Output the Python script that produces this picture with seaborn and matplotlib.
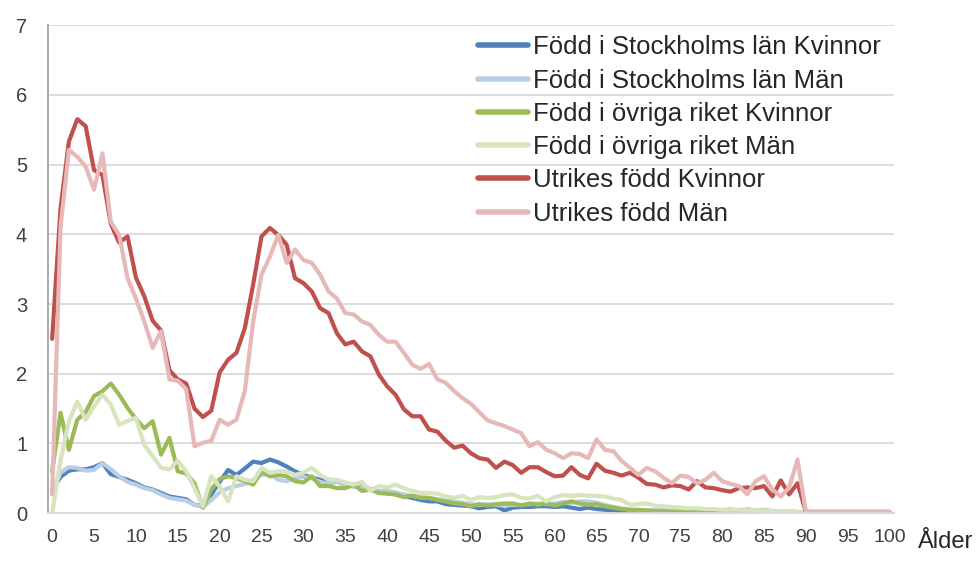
import matplotlib
matplotlib.use('Agg')
import matplotlib.pyplot as plt
import seaborn as sns
import pandas as pd

# Ålder 0-100
ages = list(range(0, 101))

stockholm_kvinnor = [
    0.33, 0.52, 0.61, 0.63, 0.63, 0.66, 0.72, 0.56, 0.52, 0.48,
    0.43, 0.37, 0.34, 0.29, 0.24, 0.22, 0.20, 0.12, 0.10, 0.27,
    0.45, 0.62, 0.55, 0.64, 0.74, 0.72, 0.77, 0.73, 0.67, 0.60,
    0.55, 0.51, 0.48, 0.48, 0.46, 0.40, 0.39, 0.39, 0.34, 0.32,
    0.29, 0.27, 0.24, 0.22, 0.19, 0.17, 0.17, 0.13, 0.12, 0.11,
    0.10, 0.07, 0.09, 0.10, 0.04, 0.08, 0.09, 0.09, 0.10, 0.10,
    0.09, 0.10, 0.08, 0.06, 0.08, 0.06, 0.05, 0.04, 0.03, 0.02,
    0.01, 0.02, 0.02, 0.01, 0.02, 0.02, 0.01, 0.02, 0.02, 0.01,
    0.02, 0.02, 0.01, 0.02, 0.01, 0.02, 0.01, 0.01, 0.01, 0.01,
    0.00, 0.00, 0.00, 0.00, 0.00, 0.00, 0.00, 0.00, 0.00, 0.00,
    0.00,
]
stockholm_man = [
    0.30, 0.58, 0.66, 0.65, 0.61, 0.62, 0.72, 0.63, 0.53, 0.45,
    0.41, 0.36, 0.33, 0.27, 0.22, 0.20, 0.18, 0.12, 0.09, 0.19,
    0.30, 0.36, 0.39, 0.42, 0.48, 0.55, 0.56, 0.48, 0.46, 0.50,
    0.52, 0.50, 0.45, 0.42, 0.45, 0.40, 0.38, 0.38, 0.34, 0.32,
    0.32, 0.30, 0.27, 0.25, 0.23, 0.22, 0.20, 0.18, 0.17, 0.15,
    0.13, 0.12, 0.13, 0.12, 0.11, 0.12, 0.12, 0.13, 0.14, 0.13,
    0.14, 0.16, 0.15, 0.17, 0.17, 0.15, 0.12, 0.09, 0.07, 0.05,
    0.04, 0.04, 0.05, 0.04, 0.04, 0.05, 0.04, 0.06, 0.04, 0.05,
    0.04, 0.06, 0.04, 0.06, 0.04, 0.05, 0.03, 0.03, 0.02, 0.02,
    0.00, 0.00, 0.00, 0.00, 0.00, 0.00, 0.00, 0.00, 0.00, 0.00,
    0.00,
]
ovriga_kvinnor = [
    0.60, 1.44, 0.91, 1.34, 1.45, 1.68, 1.75, 1.86, 1.70, 1.51,
    1.35, 1.22, 1.32, 0.84, 1.08, 0.60, 0.57, 0.43, 0.08, 0.34,
    0.49, 0.53, 0.50, 0.46, 0.41, 0.60, 0.53, 0.55, 0.53, 0.46,
    0.44, 0.53, 0.39, 0.39, 0.36, 0.36, 0.41, 0.32, 0.34, 0.29,
    0.28, 0.27, 0.23, 0.25, 0.22, 0.22, 0.19, 0.17, 0.14, 0.13,
    0.10, 0.13, 0.11, 0.13, 0.14, 0.14, 0.11, 0.14, 0.12, 0.14,
    0.11, 0.14, 0.17, 0.14, 0.12, 0.13, 0.10, 0.08, 0.06, 0.05,
    0.05, 0.04, 0.03, 0.03, 0.02, 0.02, 0.02, 0.02, 0.03, 0.03,
    0.02, 0.03, 0.04, 0.03, 0.03, 0.04, 0.03, 0.02, 0.02, 0.02,
    0.00, 0.00, 0.00, 0.00, 0.00, 0.00, 0.00, 0.00, 0.00, 0.00,
    0.00,
]
ovriga_man = [
    0.00, 0.76, 1.32, 1.60, 1.34, 1.53, 1.70, 1.56, 1.27, 1.32,
    1.37, 0.98, 0.82, 0.65, 0.63, 0.75, 0.60, 0.36, 0.10, 0.53,
    0.38, 0.17, 0.53, 0.48, 0.46, 0.65, 0.58, 0.60, 0.60, 0.55,
    0.58, 0.65, 0.55, 0.48, 0.48, 0.44, 0.41, 0.45, 0.32, 0.39,
    0.37, 0.41, 0.36, 0.32, 0.29, 0.29, 0.28, 0.24, 0.22, 0.25,
    0.19, 0.23, 0.22, 0.23, 0.26, 0.27, 0.22, 0.21, 0.25, 0.17,
    0.23, 0.26, 0.25, 0.26, 0.25, 0.25, 0.24, 0.21, 0.19, 0.12,
    0.13, 0.14, 0.11, 0.10, 0.09, 0.08, 0.07, 0.07, 0.06, 0.06,
    0.05, 0.05, 0.05, 0.04, 0.04, 0.04, 0.03, 0.03, 0.03, 0.02,
    0.00, 0.00, 0.00, 0.00, 0.00, 0.00, 0.00, 0.00, 0.00, 0.00,
    0.00,
]
utrikes_kvinnor = [
    2.50, 4.37, 5.33, 5.65, 5.55, 4.92, 4.85, 4.15, 3.88, 3.97,
    3.38, 3.11, 2.76, 2.62, 2.05, 1.92, 1.86, 1.50, 1.38, 1.47,
    2.02, 2.20, 2.30, 2.65, 3.28, 3.97, 4.09, 3.99, 3.85, 3.37,
    3.30, 3.18, 2.94, 2.87, 2.58, 2.42, 2.46, 2.32, 2.25, 1.99,
    1.82, 1.70, 1.49, 1.39, 1.39, 1.20, 1.17, 1.04, 0.94, 0.97,
    0.86, 0.79, 0.77, 0.65, 0.74, 0.69, 0.58, 0.66, 0.66, 0.59,
    0.53, 0.54, 0.66, 0.55, 0.50, 0.71, 0.61, 0.58, 0.54, 0.58,
    0.51, 0.42, 0.41, 0.37, 0.40, 0.39, 0.34, 0.46, 0.37, 0.36,
    0.33, 0.31, 0.36, 0.37, 0.36, 0.39, 0.24, 0.47, 0.27, 0.43,
    0.02, 0.02, 0.02, 0.02, 0.02, 0.02, 0.02, 0.02, 0.02, 0.02,
    0.02,
]
utrikes_man = [
    0.27, 4.10, 5.21, 5.11, 4.97, 4.64, 5.16, 4.18, 3.99, 3.37,
    3.08, 2.75, 2.37, 2.61, 1.92, 1.90, 1.78, 0.96, 1.01, 1.04,
    1.34, 1.27, 1.34, 1.75, 2.75, 3.42, 3.68, 3.99, 3.59, 3.78,
    3.63, 3.59, 3.42, 3.18, 3.08, 2.87, 2.85, 2.75, 2.70, 2.56,
    2.46, 2.46, 2.30, 2.13, 2.07, 2.14, 1.92, 1.87, 1.75, 1.65,
    1.57, 1.45, 1.33, 1.29, 1.25, 1.20, 1.15, 0.96, 1.02, 0.91,
    0.86, 0.79, 0.86, 0.85, 0.79, 1.06, 0.91, 0.89, 0.75, 0.65,
    0.55, 0.65, 0.60, 0.51, 0.43, 0.54, 0.52, 0.43, 0.48, 0.58,
    0.46, 0.42, 0.39, 0.27, 0.46, 0.53, 0.34, 0.24, 0.37, 0.77,
    0.02, 0.02, 0.02, 0.02, 0.02, 0.02, 0.02, 0.02, 0.02, 0.02,
    0.02,
]

series_names = [
    'Född i Stockholms län Kvinnor',
    'Född i Stockholms län Män',
    'Född i övriga riket Kvinnor',
    'Född i övriga riket Män',
    'Utrikes född Kvinnor',
    'Utrikes född Män',
]
series_values = [stockholm_kvinnor, stockholm_man, ovriga_kvinnor,
                 ovriga_man, utrikes_kvinnor, utrikes_man]
colors = ['#4F81BD', '#B9CDE5', '#9BBB59', '#D7E4BD', '#C0504D', '#E6B9B8']

frames = []
for name, vals in zip(series_names, series_values):
    frames.append(pd.DataFrame({'Ålder': ages, 'Andel': vals, 'Grupp': name}))
df = pd.concat(frames, ignore_index=True)

sns.set_style('white')
plt.rcParams['font.family'] = ['Liberation Sans', 'DejaVu Sans']

fig, ax = plt.subplots(figsize=(9.79, 5.69), dpi=100)
fig.subplots_adjust(left=0.049, right=0.913, top=0.956, bottom=0.098)

sns.lineplot(data=df, x='Ålder', y='Andel', hue='Grupp', hue_order=series_names,
             palette=colors, linewidth=3, errorbar=None, ax=ax)

ax.set_xlim(-0.5, 100.5)
ax.set_ylim(0, 7)
ax.set_xlabel('')
ax.set_ylabel('')

ax.set_xticks(range(0, 101, 5))
ax.set_xticks([x - 0.5 for x in range(0, 101, 5)] + [100.5], minor=True)
ax.tick_params(axis='x', which='major', length=0, labelsize=14, pad=11, labelcolor='#404040')
ax.tick_params(axis='x', which='minor', length=5, width=1, color='#D9D9D9', direction='out')
ax.set_yticks(range(0, 8))
ax.tick_params(axis='y', length=0, labelsize=14.5, pad=15, labelcolor='#404040')

ax.yaxis.grid(True, color='#D9D9D9', linewidth=1.3)
ax.set_axisbelow(True)
for side in ['top', 'right']:
    ax.spines[side].set_visible(False)
ax.spines['left'].set_color('#A6A6A6')
ax.spines['bottom'].set_color('#D9D9D9')
ax.spines['left'].set_linewidth(1.3)
ax.spines['bottom'].set_linewidth(1.3)

leg = ax.legend(loc='upper left', bbox_to_anchor=(0.481, 1.026), frameon=False,
                fontsize=18.5, handlelength=1.95, handletextpad=0.2, labelspacing=0.36)
for line in leg.get_lines():
    line.set_linewidth(4)
for text in leg.get_texts():
    text.set_color('#262626')

fig.text(0.938, 0.037, 'Ålder', fontsize=17, color='#262626')

plt.savefig('out.png', dpi=100)
